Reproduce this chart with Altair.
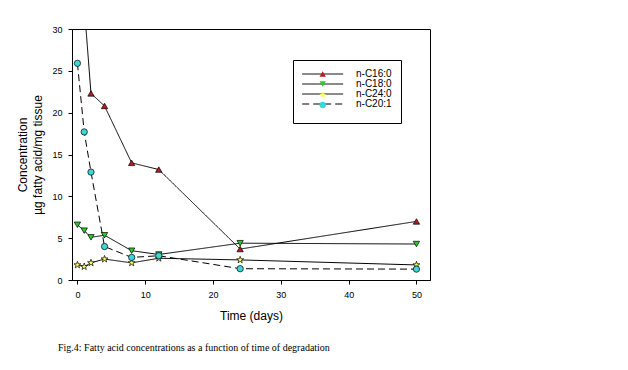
import math
import altair as alt
import pandas as pd

# ---- data ----
days = [0, 1, 2, 4, 8, 12, 24, 50]
series_names = ["n-C16:0", "n-C18:0", "n-C24:0", "n-C20:1"]
c16 = [45.0, 32.8, 22.3, 20.8, 14.0, 13.2, 3.7, 7.0]
c18 = [6.6, 5.9, 5.1, 5.35, 3.5, 3.05, 4.4, 4.3]
c24 = [1.8, 1.6, 2.05, 2.5, 2.05, 2.6, 2.4, 1.8]
c20 = [25.9, 17.7, 12.9, 4.0, 2.7, 2.9, 1.35, 1.3]
x_ticks = [0, 10, 20, 30, 40, 50]
y_ticks = [0, 5, 10, 15, 20, 25, 30]

fill_colors = ["#b01e1e", "#2ec82e", "#ffff60", "#3ad8d8"]
dashes = [[1, 0], [1, 0], [1, 0], [7, 4]]

# marker keys (distinct domain so the marker legend stays separate)
marker_keys = ["m " + n for n in series_names]

rows = []
for name, key, vals in zip(series_names, marker_keys, [c16, c18, c24, c20]):
    for d, v in zip(days, vals):
        rows.append({"day": d, "conc": v, "series": name, "marker": key})
df = pd.DataFrame(rows)

# five-pointed star symbol
pts = []
for i in range(10):
    r = 1.15 if i % 2 == 0 else 0.45
    a = -math.pi / 2 + i * math.pi / 5
    pts.append(f"{r*math.cos(a):.3f},{r*math.sin(a):.3f}")
star = "M" + "L".join(pts) + "Z"
shapes = ["triangle-up", "triangle-down", star, "circle"]

# legend line symbol (offset so marker sits mid-line)
line_sym = "M-1.37,0H10.34"

FONT = "Liberation Sans"
PAD = 9
LEG_Y = 31

x = alt.X("day:Q",
          scale=alt.Scale(domain=[-0.8, 52], nice=False, zero=False),
          axis=alt.Axis(values=x_ticks, title="Time (days)", format="d"))
y = alt.Y("conc:Q",
          scale=alt.Scale(domain=[0, 30], nice=False),
          axis=alt.Axis(values=y_ticks, title=["Concentration", "µg fatty acid/mg tissue"],
                        titleLineHeight=15, titlePadding=7))

line_legend = alt.Legend(
    orient="none", legendX=221, legendY=LEG_Y, padding=PAD,
    symbolType=line_sym, symbolSize=49, symbolStrokeWidth=1,
    labelFont=FONT, labelFontSize=10, labelColor="black", labelOffset=44,
    rowPadding=0, strokeColor="black",
    title=" ", titleOrient="bottom", titleFontSize=4, titlePadding=1,
)
marker_legend = alt.Legend(
    orient="none", legendX=236.7, legendY=LEG_Y, padding=PAD,
    symbolSize=40, symbolStrokeWidth=0.7, symbolStrokeColor="black",
    labelFont=FONT, labelFontSize=10, labelExpr="''", labelOffset=44,
    rowPadding=0, title=None,
)

lines = alt.Chart(df).mark_line(clip=True, strokeWidth=1).encode(
    x=x, y=y,
    color=alt.Color("series:N", scale=alt.Scale(domain=series_names, range=["black"] * 4),
                    legend=line_legend),
    strokeDash=alt.StrokeDash("series:N", scale=alt.Scale(domain=series_names, range=dashes),
                              legend=line_legend),
)

points = alt.Chart(df).mark_point(filled=True, clip=True, size=40, stroke="black",
                                  strokeWidth=0.7, opacity=1).encode(
    x=x, y=y,
    fill=alt.Fill("marker:N", scale=alt.Scale(domain=marker_keys, range=fill_colors),
                  legend=marker_legend),
    shape=alt.Shape("marker:N", scale=alt.Scale(domain=marker_keys, range=shapes),
                    legend=marker_legend),
)

chart = alt.layer(lines, points).properties(
    width=358, height=251,
    autosize=alt.AutoSizeParams(type="none"),
    padding={"left": 64, "top": 21, "right": 190, "bottom": 85},
    title=alt.TitleParams(
        "Fig.4: Fatty acid concentrations as a function of time of degradation",
        orient="bottom", anchor="start", frame="group", font="Liberation Serif",
        fontSize=10, fontWeight="normal", color="black", offset=22, dx=-14,
    ),
).configure_view(
    stroke="black", strokeWidth=1
).configure_axis(
    labelFont=FONT, labelFontSize=9, labelColor="black",
    titleFont=FONT, titleFontSize=12, titleFontWeight="normal", titleColor="black",
    domainColor="black", tickColor="black", tickSize=4, labelPadding=6, grid=False,
).configure_axisX(
    titlePadding=11,
)

chart.save("out.html", embed_options={"renderer": "svg", "actions": False})
